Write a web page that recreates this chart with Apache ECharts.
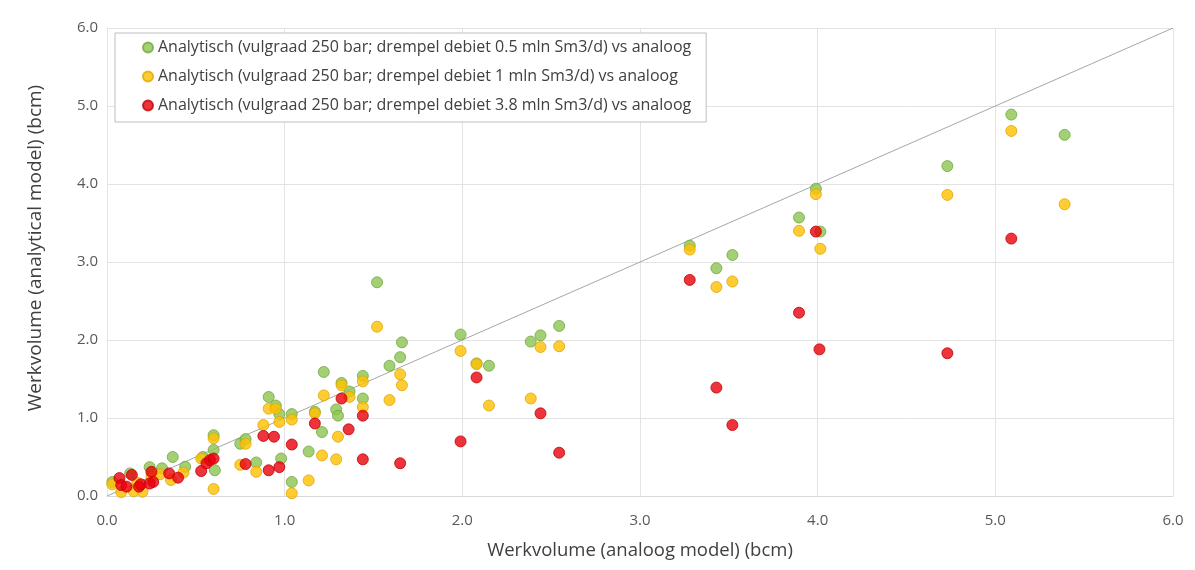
<!DOCTYPE html>
<html>
<head>
<meta charset="utf-8">
<script src="https://cdn.jsdelivr.net/npm/echarts@6/dist/echarts.min.js"></script>
<style>
html,body{margin:0;padding:0;background:#fff;}
#chart{width:1195px;height:570px;}
</style>
</head>
<body>
<div id="chart"></div>
<script>
const seriesNames = [
  'Analytisch (vulgraad 250 bar; drempel debiet 0.5 mln Sm3/d) vs analoog',
  'Analytisch (vulgraad 250 bar; drempel debiet 1 mln Sm3/d) vs analoog',
  'Analytisch (vulgraad 250 bar; drempel debiet 3.8 mln Sm3/d) vs analoog'
];
const axisTicks = [0, 1, 2, 3, 4, 5, 6];
const xAxisTitle = 'Werkvolume (analoog model) (bcm)';
const yAxisTitle = 'Werkvolume (analytical model) (bcm)';

const green05 = [
  [0.03,0.18],[0.13,0.29],[0.24,0.37],[0.31,0.355],[0.37,0.50],[0.44,0.375],
  [0.54,0.50],[0.60,0.78],[0.60,0.59],[0.607,0.33],[0.75,0.67],[0.78,0.73],
  [0.84,0.43],[0.91,1.27],[0.95,1.16],[0.97,1.05],[0.98,0.48],[1.04,1.05],
  [1.04,0.18],[1.135,0.57],[1.17,1.08],[1.21,0.82],[1.22,1.59],[1.29,1.11],
  [1.30,1.03],[1.32,1.45],[1.365,1.34],[1.44,1.54],[1.44,1.25],[1.52,2.74],
  [1.59,1.67],[1.65,1.78],[1.66,1.97],[1.99,2.07],[2.08,1.70],[2.15,1.67],
  [2.385,1.98],[2.44,2.06],[2.545,2.18],[3.28,3.21],[3.43,2.92],[3.52,3.09],
  [3.895,3.57],[3.99,3.94],[4.015,3.39],[4.73,4.23],[5.09,4.89],[5.39,4.63]
];
const yellow1 = [
  [0.03,0.15],[0.08,0.05],[0.15,0.06],[0.20,0.055],[0.17,0.17],[0.25,0.25],
  [0.30,0.28],[0.36,0.205],[0.43,0.30],[0.53,0.48],[0.60,0.74],[0.60,0.09],
  [0.75,0.40],[0.78,0.67],[0.84,0.31],[0.88,0.91],[0.91,1.12],[0.95,1.12],
  [0.97,0.95],[1.04,0.98],[1.04,0.035],[1.135,0.20],[1.17,1.06],[1.21,0.52],
  [1.22,1.29],[1.29,0.47],[1.30,0.76],[1.32,1.42],[1.365,1.27],[1.44,1.47],
  [1.44,1.14],[1.52,2.17],[1.59,1.23],[1.65,1.56],[1.66,1.42],[1.99,1.86],
  [2.08,1.69],[2.15,1.16],[2.385,1.25],[2.44,1.91],[2.545,1.92],[3.28,3.16],
  [3.43,2.68],[3.52,2.75],[3.895,3.40],[3.99,3.87],[4.015,3.17],[4.73,3.86],
  [5.09,4.68],[5.39,3.74]
];
const red38 = [
  [0.07,0.23],[0.08,0.14],[0.11,0.12],[0.14,0.27],[0.18,0.12],[0.19,0.15],
  [0.25,0.31],[0.26,0.18],[0.24,0.16],[0.35,0.29],[0.40,0.235],[0.53,0.32],
  [0.56,0.42],[0.58,0.46],[0.60,0.48],[0.78,0.41],[0.88,0.77],[0.91,0.33],
  [0.94,0.76],[0.97,0.37],[1.04,0.66],[1.17,0.93],[1.32,1.25],[1.36,0.855],
  [1.44,1.03],[1.44,0.47],[1.65,0.42],[1.99,0.70],[2.08,1.52],[2.44,1.06],
  [2.545,0.555],[3.28,2.77],[3.43,1.39],[3.52,0.91],[3.895,2.35],[3.99,3.39],
  [4.01,1.88],[4.73,1.83],[5.09,3.30]
];
const diagonal = [[0,0],[6,6]];

const chart = echarts.init(document.getElementById('chart'), null, {renderer:'canvas'});
const fontFam = '"Open Sans", "Noto Sans", sans-serif';
function sc(name, data, fill, border, z) {
  return {
    name: name, type: 'scatter', data: data, symbol: 'circle', symbolSize: 11, z: z,
    itemStyle: {color: fill, borderColor: border, borderWidth: 1},
    emphasis: {disabled: true}
  };
}
chart.setOption({
  animation: false,
  backgroundColor: '#ffffff',
  grid: {left: 107, right: 22, top: 28, bottom: 74},
  legend: {
    orient: 'vertical', left: 115, top: 33,
    data: seriesNames,
    itemWidth: 10, itemHeight: 10, itemGap: 12,
    padding: [6, 15, 8, 27],
    borderColor: '#bfbfbf', borderWidth: 1, backgroundColor: '#ffffff',
    textStyle: {fontFamily: fontFam, fontSize: 16, color: '#404040', lineHeight: 17},
    icon: 'circle'
  },
  xAxis: {
    type: 'value', min: 0, max: 6, interval: 1,
    name: xAxisTitle, nameLocation: 'middle', nameGap: 45,
    nameTextStyle: {fontFamily: fontFam, fontSize: 18.5, color: '#404040'},
    axisLine: {show: true, lineStyle: {color: '#d9d9d9'}},
    axisTick: {show: false},
    axisLabel: {fontFamily: fontFam, fontSize: 15, color: '#595959', margin: 17,
      formatter: v => axisTicks.includes(v) ? v.toFixed(1) : ''},
    splitLine: {show: true, lineStyle: {color: '#e3e3e3'}}
  },
  yAxis: {
    type: 'value', min: 0, max: 6, interval: 1,
    name: yAxisTitle, nameLocation: 'middle', nameGap: 62, nameRotate: 90,
    nameTextStyle: {fontFamily: fontFam, fontSize: 19, color: '#404040', padding: [0, 0, 0, 28]},
    axisLine: {show: true, lineStyle: {color: '#e3e3e3'}},
    axisTick: {show: false},
    axisLabel: {fontFamily: fontFam, fontSize: 15, color: '#595959', margin: 9,
      formatter: v => axisTicks.includes(v) ? v.toFixed(1) : ''},
    splitLine: {show: true, lineStyle: {color: '#e3e3e3'}}
  },
  series: [
    {type: 'line', data: diagonal, symbol: 'none', silent: true, z: 1,
     lineStyle: {color: '#a6a6a6', width: 1}, legendHoverLink: false},
    sc(seriesNames[0], green05, '#8dc453', '#72a83e', 2),
    sc(seriesNames[1], yellow1, '#ffc000', '#e0a600', 3),
    sc(seriesNames[2], red38, '#e8000b', '#c40000', 4)
  ]
});
</script>
</body>
</html>
